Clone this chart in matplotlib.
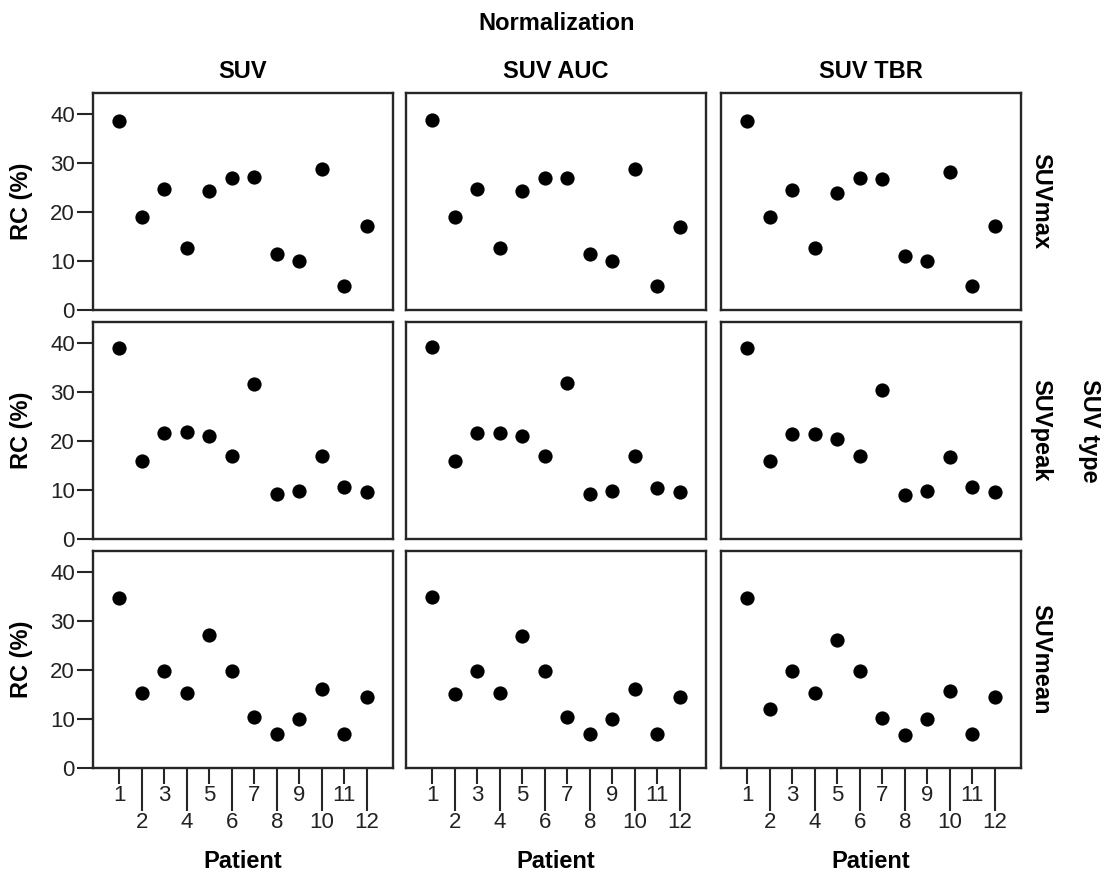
import numpy as np
import matplotlib
matplotlib.use('Agg')
import matplotlib.pyplot as plt
from matplotlib.ticker import FixedLocator, FixedFormatter

plt.rcParams['font.family'] = ['Liberation Sans', 'DejaVu Sans']

patients = list(range(1, 13))
normalizations = ['SUV', 'SUV AUC', 'SUV TBR']
suv_types = ['SUVmax', 'SUVpeak', 'SUVmean']

# RC (%) per patient
suvmax_suv = [38.5, 18.9, 24.7, 12.7, 24.2, 26.9, 27.1, 11.4, 10.1, 28.8, 4.8, 17.2]
suvmax_auc = [38.8, 18.9, 24.7, 12.7, 24.2, 26.9, 26.9, 11.4, 10.1, 28.8, 4.8, 17.0]
suvmax_tbr = [38.5, 18.9, 24.5, 12.6, 23.9, 26.9, 26.7, 11.1, 10.1, 28.1, 4.8, 17.2]

suvpeak_suv = [38.9, 16.0, 21.6, 21.8, 21.1, 17.0, 31.6, 9.2, 9.7, 17.0, 10.7, 9.5]
suvpeak_auc = [39.1, 15.9, 21.6, 21.6, 21.0, 16.9, 31.9, 9.2, 9.7, 16.9, 10.5, 9.5]
suvpeak_tbr = [38.9, 16.0, 21.4, 21.4, 20.5, 17.0, 30.5, 9.0, 9.7, 16.7, 10.7, 9.5]

suvmean_suv = [34.7, 15.3, 19.9, 15.3, 27.1, 19.8, 10.4, 6.9, 10.1, 16.1, 6.9, 14.5]
suvmean_auc = [34.9, 15.2, 19.9, 15.3, 26.9, 19.9, 10.4, 6.9, 10.1, 16.1, 6.9, 14.5]
suvmean_tbr = [34.7, 12.0, 19.9, 15.3, 26.1, 19.9, 10.2, 6.7, 10.1, 15.8, 6.9, 14.5]

grid = [
    [suvmax_suv, suvmax_auc, suvmax_tbr],
    [suvpeak_suv, suvpeak_auc, suvpeak_tbr],
    [suvmean_suv, suvmean_auc, suvmean_tbr],
]

W, H = 1107, 880
fig = plt.figure(figsize=(W / 100, H / 100), dpi=100)

col_left = [93, 406, 721]
row_top = [93, 322, 551]
pw, ph = 300, 217
frame_col = '#262626'
tick_fs = 16
lab_fs = 17

for r in range(3):
    for c in range(3):
        ax = fig.add_axes([col_left[c] / W, 1 - (row_top[r] + ph) / H, pw / W, ph / H])
        ax.scatter(patients, grid[r][c], s=105, color='black', zorder=3, linewidths=0)
        ax.set_xlim(1 - 1.17, 12 + 1.17)
        ax.set_ylim(0, 44.3)
        for sp in ax.spines.values():
            sp.set_color(frame_col)
            sp.set_linewidth(1.7)

        if c == 0:
            ax.set_yticks([0, 10, 20, 30, 40])
            ax.tick_params(axis='y', length=11.5, width=1.5, color=frame_col, pad=1.5,
                           labelsize=tick_fs, labelcolor='#222222')
            ax.set_ylabel('RC (%)', fontsize=lab_fs, fontweight='bold')
            ax.yaxis.set_label_coords(-0.237, 0.5)
            ax.yaxis.label.set_va('center')
        else:
            ax.set_yticks([])

        if r == 2:
            odd = [p for p in patients if p % 2 == 1]
            even = [p for p in patients if p % 2 == 0]
            ax.xaxis.set_major_locator(FixedLocator(odd))
            ax.xaxis.set_major_formatter(FixedFormatter([str(p) for p in odd]))
            ax.xaxis.set_minor_locator(FixedLocator(even))
            ax.xaxis.set_minor_formatter(FixedFormatter([str(p) for p in even]))
            ax.tick_params(axis='x', which='major', length=11.5, width=1.5, color=frame_col,
                           pad=1, labelsize=tick_fs, labelcolor='#222222')
            ax.tick_params(axis='x', which='minor', length=31, width=1.5, color=frame_col,
                           pad=1, labelsize=tick_fs, labelcolor='#222222')
            ax.set_xlabel('Patient', fontsize=lab_fs, fontweight='bold')
            ax.xaxis.set_label_coords(0.5, -0.43)
            ax.xaxis.label.set_va('center')
        else:
            ax.set_xticks([])

        if r == 0:
            fig.text((col_left[c] + pw / 2) / W, 1 - 71 / H, normalizations[c],
                     ha='center', va='center', fontsize=lab_fs, fontweight='bold')
        if c == 2:
            ax.text(1.065, 0.5, suv_types[r], transform=ax.transAxes, rotation=-90,
                    ha='center', va='center', fontsize=lab_fs, fontweight='bold')

fig.text(557 / W, 1 - 23 / H, 'Normalization', ha='center', va='center',
         fontsize=lab_fs, fontweight='bold')
fig.text(1090 / W, 1 - 431 / H, 'SUV type', ha='center', va='center', rotation=-90,
         fontsize=lab_fs, fontweight='bold')

fig.savefig('out.png', dpi=100, facecolor='white')
